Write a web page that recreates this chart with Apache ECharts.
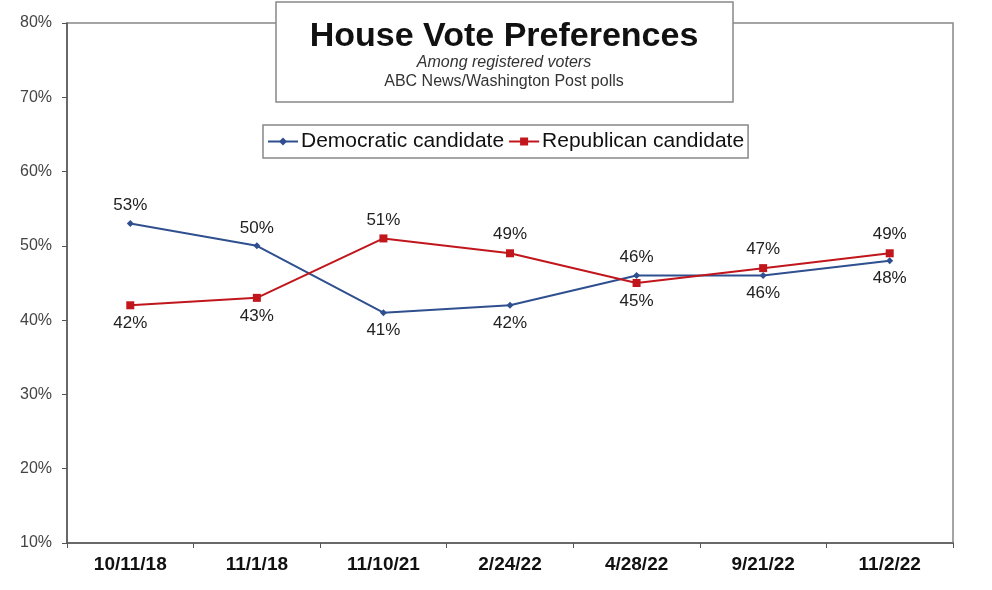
<!DOCTYPE html>
<html><head><meta charset="utf-8">
<script src="https://cdn.jsdelivr.net/npm/echarts@6/dist/echarts.min.js"></script>
<style>html,body{margin:0;padding:0;background:#fff}#c{width:992px;height:590px}</style>
</head><body><div id="c"></div>
<script>
const categories = ['10/11/18','11/1/18','11/10/21','2/24/22','4/28/22','9/21/22','11/2/22'];
const demValues = [53, 50, 41, 42, 46, 46, 48];
const repValues = [42, 43, 51, 49, 45, 47, 49];
const demLabelPos = ['top','top','bottom','bottom','top','bottom','bottom'];
const repLabelPos = ['bottom','bottom','top','top','bottom','top','top'];
const yTicks = [10, 20, 30, 40, 50, 60, 70, 80];

const FONT = '"Liberation Sans", Arial, sans-serif';
function withPos(vals, pos) {
  return vals.map((v, i) => ({ value: v, label: { position: pos[i] } }));
}
const chart = echarts.init(document.getElementById('c'));
chart.setOption({
  animation: false,
  backgroundColor: '#fff',
  grid: { left: 67, right: 39, top: 23, bottom: 47, show: true, borderColor: '#888', borderWidth: 1.5 },
  title: [
    { text: 'House Vote Preferences', left: 499, top: 15, textAlign: 'center',
      textStyle: { fontFamily: FONT, fontWeight: 'bold', fontSize: 34, color: '#111' } },
    { text: 'Among registered voters', left: 499, top: 50, textAlign: 'center',
      textStyle: { fontFamily: FONT, fontStyle: 'italic', fontWeight: 'normal', fontSize: 16, color: '#333' } },
    { text: 'ABC News/Washington Post polls', left: 499, top: 69, textAlign: 'center',
      textStyle: { fontFamily: FONT, fontWeight: 'normal', fontSize: 16, color: '#333' } }
  ],
  graphic: [
    { type: 'rect', shape: { x: 276, y: 2, width: 457, height: 100 }, z: 0, zlevel: 0,
      style: { fill: '#fff', stroke: '#888', lineWidth: 1.5 } }
  ],
  legend: {
    left: 263, top: 125, padding: [6, 4, 6, 4],
    borderColor: '#888', borderWidth: 1.5, backgroundColor: '#fff',
    itemWidth: 30, itemHeight: 10, itemGap: 4,
    textStyle: { fontFamily: FONT, fontSize: 21, color: '#111', padding: [0, 0, 0, -2] },
    data: ['Democratic candidate', 'Republican candidate']
  },
  xAxis: {
    type: 'category', data: categories, boundaryGap: true,
    axisLine: { lineStyle: { color: '#555', width: 1.5 } },
    axisTick: { show: true, length: 5, lineStyle: { color: '#555' } },
    axisLabel: { fontFamily: FONT, fontWeight: 'bold', fontSize: 19, color: '#111', margin: 12 }
  },
  yAxis: {
    type: 'value', min: 10, max: 80, interval: 10,
    splitLine: { show: false },
    axisLine: { show: true, lineStyle: { color: '#555', width: 1.5 } },
    axisTick: { show: true, length: 5, lineStyle: { color: '#555' } },
    axisLabel: { fontFamily: FONT, fontSize: 16, color: '#444', margin: 15, formatter: v => v + '%' }
  },
  series: [
    { name: 'Democratic candidate', type: 'line', data: withPos(demValues, demLabelPos),
      color: '#2F4F8F', symbol: 'diamond', symbolSize: 7,
      lineStyle: { width: 2, color: '#2F4F8F' }, itemStyle: { color: '#2F4F8F' },
      label: { show: true, distance: 6, formatter: p => p.value + '%', fontFamily: FONT, fontSize: 17, color: '#222' } },
    { name: 'Republican candidate', type: 'line', data: withPos(repValues, repLabelPos),
      color: '#C0161C', symbol: 'rect', symbolSize: 8,
      lineStyle: { width: 2, color: '#C0161C' }, itemStyle: { color: '#C0161C' },
      label: { show: true, distance: 6, formatter: p => p.value + '%', fontFamily: FONT, fontSize: 17, color: '#222' } }
  ]
});
</script></body></html>
